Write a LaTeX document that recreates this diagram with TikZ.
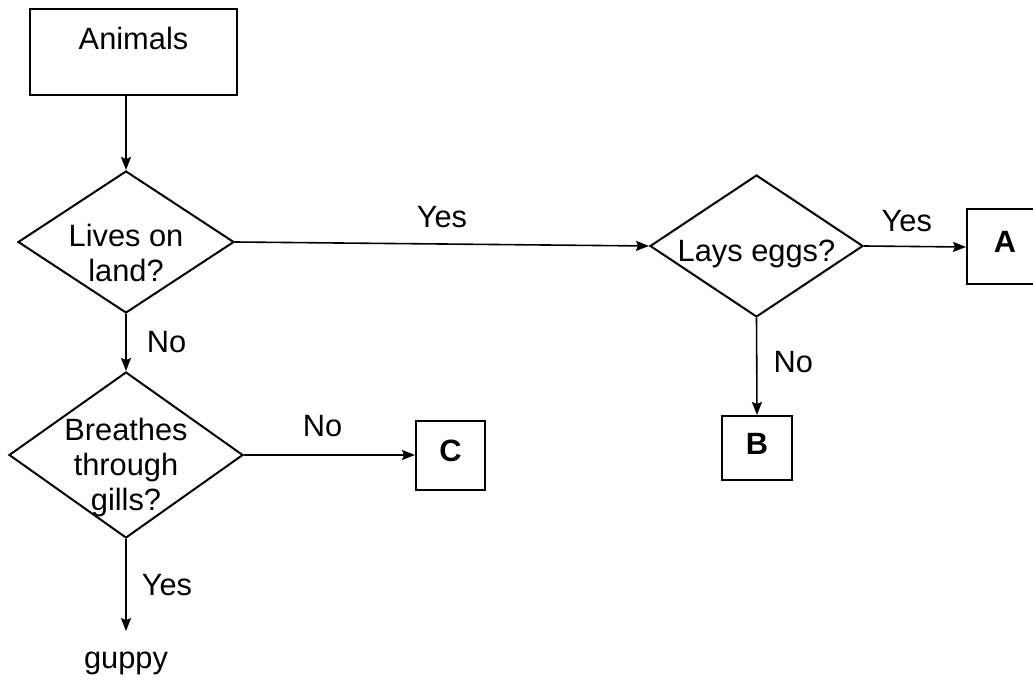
\documentclass[tikz,border=0pt]{standalone}
\usepackage{fontspec}
\setmainfont{Liberation Sans}
\usetikzlibrary{shapes.geometric,arrows.meta}
\begin{document}
\begin{tikzpicture}[x=0.5pt,y=-0.5pt,
    font=\fontsize{15.4}{17.5}\selectfont,
    box/.style={draw,line width=1pt,rectangle,inner sep=0pt},
    test/.style={draw,line width=1pt,diamond,aspect=1.5,inner sep=-4pt,align=center},
    letter/.style={box,font=\fontsize{15.4}{17.5}\selectfont\bfseries,text height=11pt,text depth=5pt},
    lab/.style={inner sep=0pt}]
  \useasboundingbox (0,0) rectangle (1033,684);
  \draw
    (133.5,52) node[box,minimum width=103.5pt,minimum height=43pt,text height=11pt,text depth=13pt] (animals){Animals}
    (126,242) node[test,minimum width=108pt,minimum height=71pt,text height=41pt,text depth=1pt] (land){Lives on\\land?}
    (756.5,246) node[test,minimum width=106.5pt,minimum height=71pt,text height=19pt,text depth=3pt] (eggs){Lays eggs?}
    (126,455) node[test,aspect=1.41,inner sep=-10pt,minimum width=117pt,minimum height=83pt,text height=56pt,text depth=1pt] (gills){Breathes\\through\\gills?}
    (1005,247) node[letter,minimum width=38pt,minimum height=37.5pt] (A){A}
    (757,448) node[letter,minimum width=35pt,minimum height=32pt] (B){B}
    (450.5,455) node[letter,minimum width=34.5pt,minimum height=34.5pt] (C){C}
    (126,663) node[inner sep=0pt,inner ysep=10pt] (guppy){guppy};
  \begin{scope}[line width=0.8pt,-{Stealth[length=6.5pt,width=5pt,inset=1pt]}]
    \draw (land.north |- animals.south) to (land.north);
    \draw (land.east) to node[lab,above=7.5pt]{Yes} (eggs.west);
    \draw (eggs.east) to node[lab,above=7pt,pos=0.42]{Yes} (A.west);
    \draw (eggs.south) to node[lab,right=8pt,pos=0.45]{No} (B.north);
    \draw (land.south) to node[lab,right=10pt]{No} (gills.north);
    \draw (gills.east) to node[lab,above=8.5pt,pos=0.46]{No} (C.west);
    \draw (gills.south) to node[lab,right=7.5pt]{Yes} (guppy.north);
  \end{scope}
\end{tikzpicture}
\end{document}
